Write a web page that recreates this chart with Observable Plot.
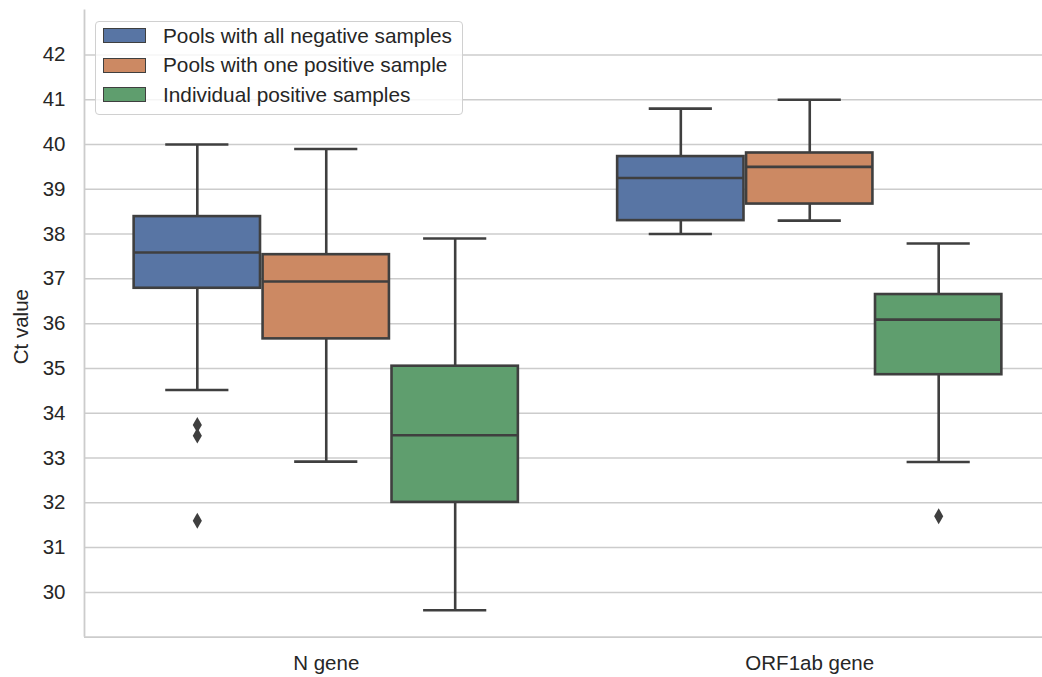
<!DOCTYPE html>
<html>
<head>
<meta charset="utf-8">
<script src="https://cdn.jsdelivr.net/npm/d3@7"></script>
<script src="https://cdn.jsdelivr.net/npm/@observablehq/plot@0.6"></script>
<style>
  html, body { margin: 0; padding: 0; background: #fff; }
  #wrap { position: relative; width: 1042px; height: 677px; overflow: hidden; font-family: "Liberation Sans", Arial, sans-serif; }
  #wrap svg { position: absolute; left: 0; top: 0; }
  #legend { position: absolute; left: 95px; top: 21px; width: 368px; height: 94px; background: rgba(255,255,255,0.8); border: 1.2px solid #d0d0d0; border-radius: 4px; box-sizing: border-box; }
  .row { position: absolute; left: 7px; height: 30px; display: flex; align-items: center; }
  .sw { width: 41px; height: 13px; border: 1.5px solid #3f3f3f; box-sizing: content-box; margin-right: 17px; }
  .lab { font-size: 20.8px; color: #262626; white-space: nowrap; }
</style>
</head>
<body>
<div id="wrap"><div id="legend"></div></div>
<script>
// ---- data ----
const genes = ["N gene", "ORF1ab gene"];
const groups = ["Pools with all negative samples", "Pools with one positive sample", "Individual positive samples"];
const colors = ["#5875a4", "#cc8963", "#5f9e6e"];
// order: N gene (3 groups), then ORF1ab gene (3 groups)
const whiskerLow  = [34.52, 32.92, 29.60, 38.00, 38.30, 32.91];
const q1          = [36.79, 35.66, 32.01, 38.30, 38.67, 34.86];
const median      = [37.59, 36.94, 33.51, 39.25, 39.50, 36.09];
const q3          = [38.39, 37.54, 35.05, 39.73, 39.81, 36.65];
const whiskerHigh = [40.00, 39.90, 37.90, 40.80, 41.00, 37.79];
const outlierGene  = [0, 0, 0, 1];
const outlierGroup = [0, 0, 0, 2];
const outlierValue = [33.74, 33.50, 31.60, 31.70];
const yTicks = [30, 31, 32, 33, 34, 35, 36, 37, 38, 39, 40, 41, 42];

// ---- layout helpers (seaborn-style dodge) ----
const groupWidth = 0.8;
const boxW = groupWidth / groups.length * 0.98;
const pos = (g, k) => g + (k - (groups.length - 1) / 2) * groupWidth / groups.length;

const boxes = [];
genes.forEach((gene, g) => groups.forEach((grp, k) => {
  const i = g * groups.length + k;
  boxes.push({
    gene, group: grp, color: colors[k], p: pos(g, k),
    lo: whiskerLow[i], q1: q1[i], med: median[i], q3: q3[i], hi: whiskerHigh[i]
  });
}));
const outliers = outlierValue.map((v, i) => ({ p: pos(outlierGene[i], outlierGroup[i]), v }));

const line = "#3f3f3f";
const lw = 2.6;

const chart = Plot.plot({
  width: 1042,
  height: 677,
  marginLeft: 84,
  marginRight: 0,
  marginTop: 9.6,
  marginBottom: 40.3,
  style: { fontFamily: "'Liberation Sans', Arial, sans-serif", color: "#262626", background: "transparent" },
  x: { type: "linear", domain: [-0.5, 1.5], range: [84, 1051] },
  y: { domain: [29, 43] },
  marks: [
    Plot.ruleY(yTicks, { stroke: "#cccccc", strokeWidth: 1.5 }),
    Plot.ruleX([-0.5], { stroke: "#cccccc", strokeWidth: 1.8 }),
    Plot.ruleY([29], { stroke: "#cccccc", strokeWidth: 1.8 }),
    Plot.axisY(yTicks, { tickSize: 0, tickPadding: 19, fontSize: 20.5, label: null }),
    Plot.axisX([0, 1], { tickSize: 0, tickPadding: 18.5, fontSize: 20.5, tickFormat: i => genes[i], label: null }),
    Plot.text(["Ct value"], { frameAnchor: "left", textAnchor: "middle", lineAnchor: "middle", rotate: -90, dx: -63, dy: 3, fontSize: 20.5, fill: "#262626" }),
    // whiskers
    Plot.ruleX(boxes, { x: "p", y1: "hi", y2: "q3", stroke: line, strokeWidth: lw }),
    Plot.ruleX(boxes, { x: "p", y1: "q1", y2: "lo", stroke: line, strokeWidth: lw }),
    // caps
    Plot.ruleY(boxes, { y: "hi", x1: d => d.p - boxW / 4, x2: d => d.p + boxW / 4, stroke: line, strokeWidth: lw }),
    Plot.ruleY(boxes, { y: "lo", x1: d => d.p - boxW / 4, x2: d => d.p + boxW / 4, stroke: line, strokeWidth: lw }),
    // boxes
    Plot.rect(boxes, { x1: d => d.p - boxW / 2, x2: d => d.p + boxW / 2, y1: "q1", y2: "q3", fill: "color", stroke: line, strokeWidth: lw }),
    // medians
    Plot.ruleY(boxes, { y: "med", x1: d => d.p - boxW / 2, x2: d => d.p + boxW / 2, stroke: line, strokeWidth: lw }),
    // outliers
    Plot.dot(outliers, { x: "p", y: "v", symbol: "diamond", r: 4.8, fill: line, stroke: "none" })
  ]
});
document.getElementById("wrap").insertBefore(chart, document.getElementById("legend"));

// legend
const legend = d3.select("#legend");
groups.forEach((g, k) => {
  const row = legend.append("div").attr("class", "row").style("top", (-1.3 + k * 29.5) + "px");
  row.append("div").attr("class", "sw").style("background", colors[k]);
  row.append("div").attr("class", "lab").text(g);
});
</script>
</body>
</html>
